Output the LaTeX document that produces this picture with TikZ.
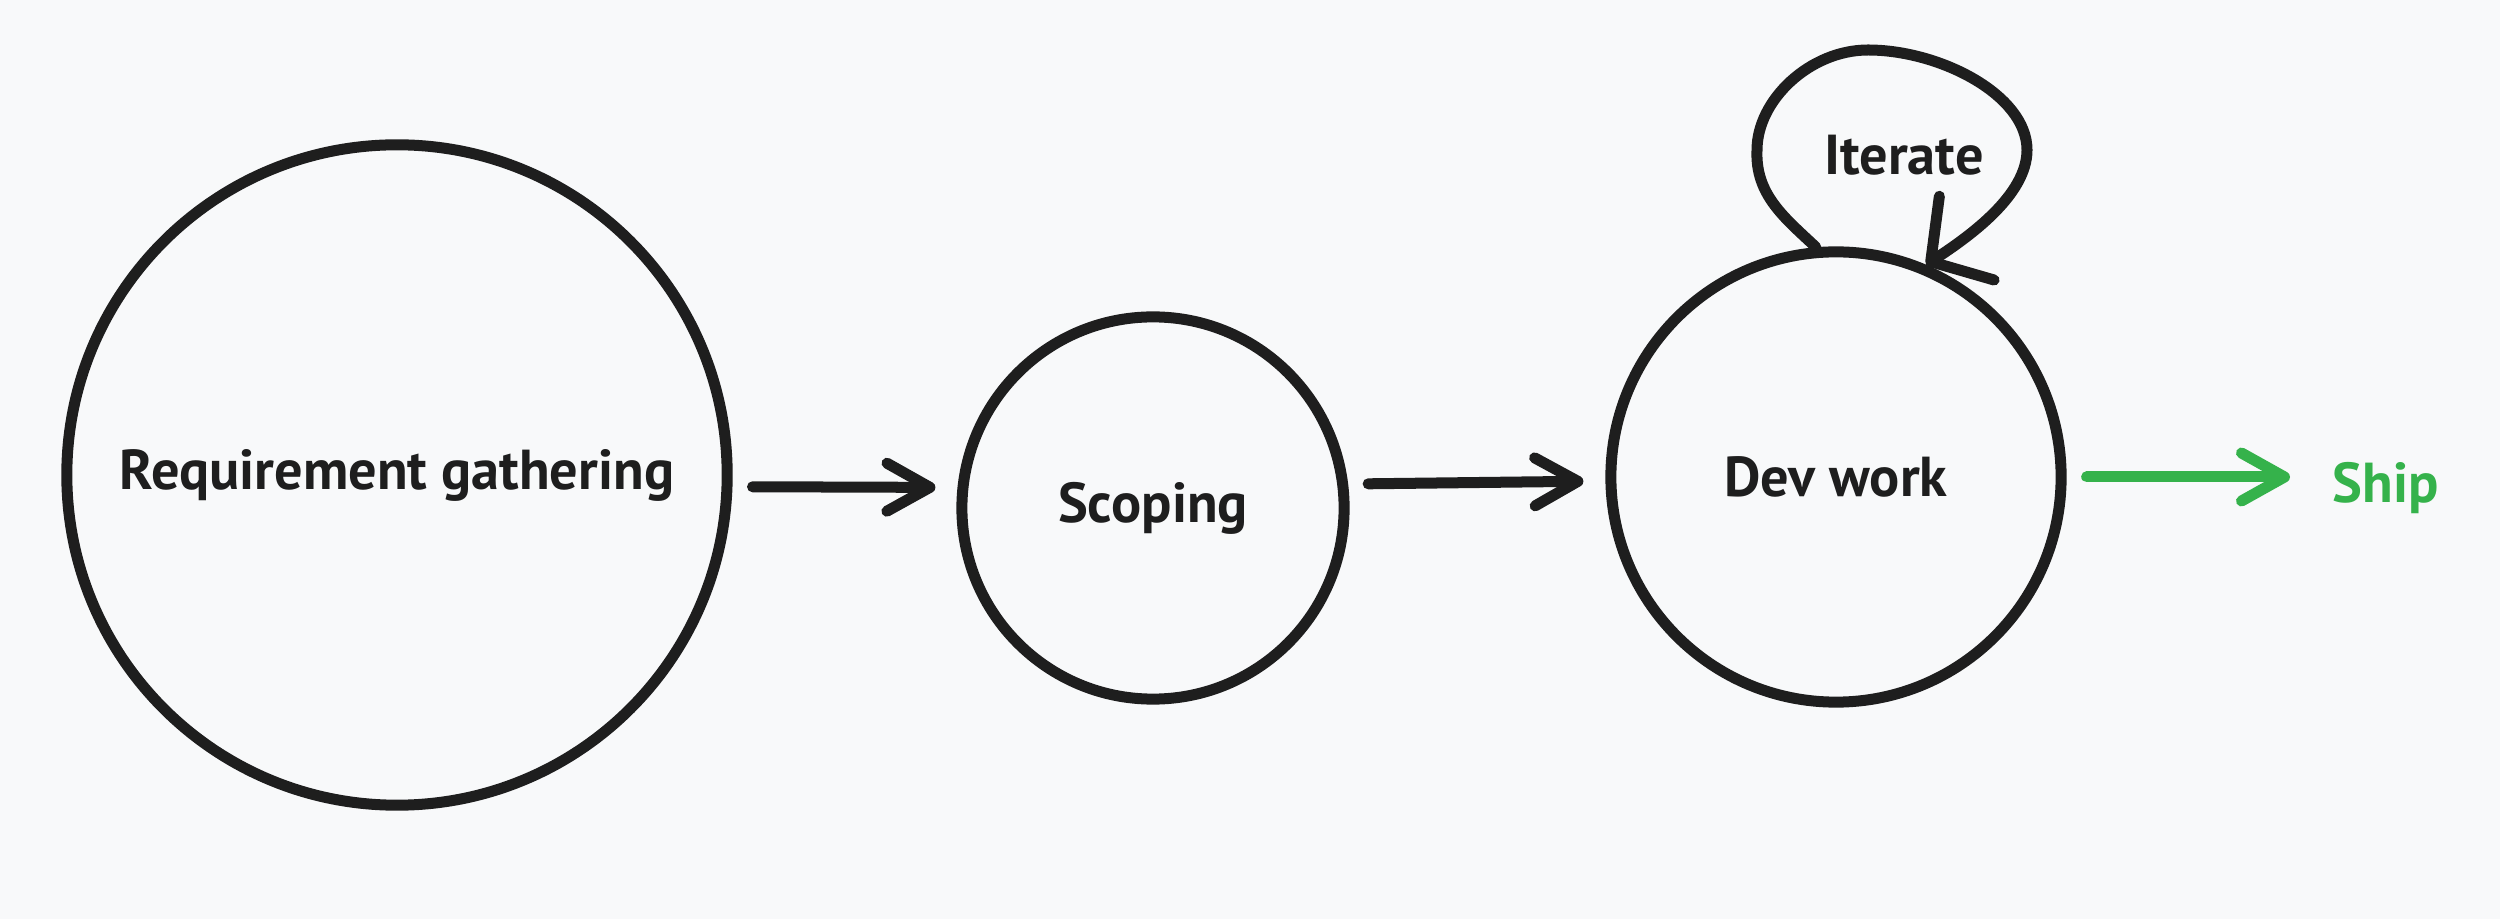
\documentclass[tikz,border=0pt]{standalone}
\usepackage{fontspec}
\setmainfont{PT Sans}
\usetikzlibrary{arrows.meta,positioning}
\definecolor{InkBlack}{RGB}{30,30,30}
\definecolor{ShipGreen}{RGB}{53,178,75}
\definecolor{PaperGray}{RGB}{248,249,250}

\begin{document}
\begin{tikzpicture}[x=0.01cm,y=-0.01cm,
    stage/.style={circle,draw=InkBlack,line width=0.11cm,inner sep=0pt,text=InkBlack,font=\bfseries\fontsize{16}{19}\selectfont},
    tag/.style={inner sep=0pt,font=\bfseries\fontsize{16}{19}\selectfont},
    flow/.style={InkBlack,line width=0.11cm,line cap=round,line join=round,
      -{Straight Barb[length=0.43cm,width=0.48cm,line cap=round,line join=round]},
      shorten <=0.2cm,shorten >=0.22cm},
    loopflow/.style={flow,-{Straight Barb[length=0.43cm,width=1cm,line cap=round,line join=round]},
      shorten <=0pt,shorten >=0pt}]
  \fill[PaperGray] (0,0) rectangle (2500,919);
  \node[stage,minimum size=6.6cm] (req) at (397,475) {Requirement gathering};
  \node[stage,minimum size=3.82cm] (scope) at (1153,508) {Scoping};
  \node[stage,minimum size=4.5cm] (dev) at (1836,477) {Dev work};
  \node[tag,anchor=base,text=InkBlack] (iter) at (1904,175) {Iterate};
  \node[tag,anchor=base west,text=ShipGreen] (ship) at (2332,503) {Ship};
  \draw[flow] (req.-2) -- (scope.174);
  \draw[flow] (scope.7) -- (dev.181);
  \draw[flow,ShipGreen,shorten >=0.42cm] (dev.east) -- (dev.east -| ship.west);
  \draw[loopflow] (dev.95) .. controls (1785,218) and (1755,195) .. (1757,150)
    .. controls (1757,100) and (1810,50) .. (1868,50)
    .. controls (1940,50) and (2027,95) .. (2027,150)
    .. controls (2027,195) and (1970,236) .. (dev.67);
\end{tikzpicture}
\end{document}
